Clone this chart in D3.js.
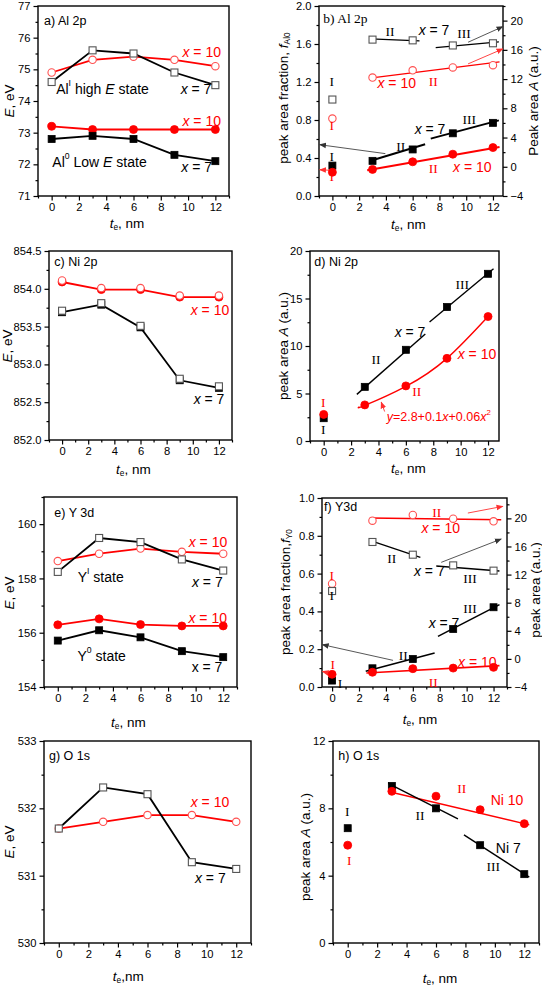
<!DOCTYPE html>
<html><head><meta charset="utf-8">
<script src="https://cdn.jsdelivr.net/npm/d3@7"></script>
<style>
body{margin:0;background:#fff}
svg text{font-family:"Liberation Sans",Arial,sans-serif}
svg text.serif{font-family:"Liberation Serif","Times New Roman",serif}
</style></head><body>
<svg id="c" width="542" height="987"></svg>
<script>
// ---------- data ----------
const T = [0, 3, 6, 9, 12];
// a) Al 2p
const aHigh7  = [74.6, 75.6, 75.5, 74.9, 74.5];
const aHigh10 = [74.9, 75.3, 75.4, 75.3, 75.1];
const aLow10  = [73.2, 73.1, 73.1, 73.1, 73.1];
const aLow7   = [72.8, 72.9, 72.8, 72.3, 72.1];
// b) Al 2p
const bFrac7  = [0.32, 0.37, 0.49, 0.66, 0.77];
const bFrac10 = [0.25, 0.28, 0.36, 0.44, 0.51];
const bArea7  = [9.2, 17.4, 17.3, 16.6, 16.9];
const bArea10 = [6.6, 12.2, 13.2, 13.6, 13.9];
const bFitArea7II  = [[2.85, 17.49], [6.51, 17.22]];
const bFitArea7III = [[7.72, 16.31], [12.44, 17.08]];
const bFitArea10   = [[2.80, 12.12], [12.49, 14.35]];
const bFitFrac7II  = [[2.80, 0.368], [6.93, 0.544]];
const bFitFrac7III = [[7.35, 0.604], [12.44, 0.796]];
const bFitFrac10   = [[2.60, 0.270], [12.49, 0.516]];
// c) Ni 2p
const cRedOpen    = [854.11, 854.01, 854.01, 853.91, 853.91];
const cRedFilled  = [854.09, 853.99, 853.99, 853.89, 853.89];
const cBlackOpen  = [853.71, 853.81, 853.51, 852.81, 852.71];
const cBlackFilled= [853.69, 853.79, 853.49, 852.79, 852.69];
// d) Ni 2p
const d7  = [2.4, 5.7, 9.6, 14.1, 17.6];
const d10 = [2.8, 3.8, 5.8, 8.7, 13.1];
const dFit7II  = [[2.42, 4.91], [7.42, 11.26]];
const dFit7III = [[7.73, 12.53], [12.4, 18.14]];
const dFit10   = [[2.6, 3.6], [3, 3.75], [6, 5.75], [9, 8.7], [12, 13.1]];
// e) Y 3d
const eHigh7  = [158.24, 159.49, 159.34, 158.70, 158.29];
const eHigh10 = [158.64, 158.91, 159.10, 158.98, 158.91];
const eLow10  = [156.29, 156.51, 156.30, 156.25, 156.25];
const eLow7   = [155.71, 156.09, 155.83, 155.32, 155.10];
// f) Y3d
const fFrac7  = [0.034, 0.099, 0.148, 0.307, 0.422];
const fFrac10 = [0.067, 0.078, 0.097, 0.100, 0.104];
const fArea7  = [9.66, 16.64, 14.83, 13.31, 12.56];
const fArea10 = [10.7, 19.67, 20.48, 19.96, 19.58];
const fFitArea10   = [[2.80, 20.05], [12.57, 19.81]];
const fFitArea7II  = [[2.80, 16.87], [6.56, 14.45]];
const fFitArea7III = [[7.74, 13.23], [12.44, 12.51]];
const fFitFrac7II  = [[2.50, 0.083], [7.62, 0.180]];
const fFitFrac7III = [[7.87, 0.268], [12.44, 0.436]];
const fFitFrac10   = [[2.55, 0.074], [12.44, 0.113]];
// g) O 1s
const g7  = [531.70, 532.31, 532.21, 531.20, 531.10];
const g10 = [531.70, 531.80, 531.90, 531.90, 531.80];
// h) O 1s
const h7  = [6.82, 9.33, 8.00, 5.81, 4.09];
const h10 = [5.81, 9.01, 8.72, 7.92, 7.09];
const hFit10    = [[2.75, 9.00], [12.34, 7.02]];
const hFit7II   = [[2.75, 9.49], [7.49, 7.37]];
const hFit7III  = [[7.90, 6.42], [12.34, 3.91]];
// tick labels
const xTicks = [0, 2, 4, 6, 8, 10, 12];
const xMinor = [-1, 1, 3, 5, 7, 9, 11, 13];

// ---------- drawing ----------
const svg = d3.select("#c");
const RED = "#ff0000", OPENRED = "#ff5050", GRAY = "#555";
const FS = 14, FT = 13.5, FR = 13.5, FP = 12.5, FK = 11.2;
const defs = svg.append("defs");
[["ahBlack", "#333"], ["ahRed", "#ff3030"]].forEach(([id, col]) => {
  defs.append("marker").attr("id", id).attr("viewBox", "0 0 10 10")
    .attr("refX", 9).attr("refY", 5).attr("markerWidth", 7).attr("markerHeight", 7)
    .attr("markerUnits", "userSpaceOnUse").attr("orient", "auto")
    .append("path").attr("d", "M0,1L10,5L0,9Z").attr("fill", col);
});

function rich(parent, str, x, y, o) {
  const fs = o.fs || FS;
  const t = parent.append("text").attr("x", x).attr("y", y)
    .attr("font-size", fs).attr("fill", o.color || "#000")
    .attr("text-anchor", o.anchor || "middle").attr("dominant-baseline", "central");
  if (o.serif) t.attr("class", "serif");
  if (o.rotate) t.attr("transform", `rotate(-90,${x},${y})`);
  const parts = str.split(/(<\/?(?:i|sup|sub)>)/);
  let it = false, mode = null, shift = 0;
  parts.forEach(p => {
    if (p === "<i>") { it = true; return; }
    if (p === "</i>") { it = false; return; }
    if (p === "<sup>") { mode = "sup"; return; }
    if (p === "<sub>") { mode = "sub"; return; }
    if (p === "</sup>" || p === "</sub>") { mode = null; return; }
    if (!p) return;
    const target = mode === "sup" ? -fs * 0.42 : mode === "sub" ? fs * 0.32 : 0;
    const ts = t.append("tspan").text(p);
    if (target - shift !== 0) ts.attr("dy", target - shift);
    shift = target;
    if (it) ts.attr("font-style", "italic");
    if (mode) ts.attr("font-size", fs * 0.62);
  });
  return t;
}

function range(a, b, s) { const r = []; for (let v = a; v <= b + 1e-9; v += s) r.push(+v.toFixed(4)); return r; }

function panel(cfg) {
  const g = svg.append("g");
  const [L, Tp, R, B] = cfg.box;
  const x = d3.scaleLinear().domain(cfg.xd).range([L, R]);
  const y = d3.scaleLinear().domain(cfg.yd).range([B, Tp]);
  const y2 = cfg.y2d ? d3.scaleLinear().domain(cfg.y2d).range([B, Tp]) : null;
  const xm = xMinor.filter(v => v >= cfg.xd[0] - 1e-6 && v <= cfg.xd[1] + 1e-6);

  const styleAxis = sel => {
    sel.select(".domain").remove();
    sel.selectAll("line").attr("stroke", "#000").attr("stroke-width", 1.2);
    sel.selectAll("text").attr("font-size", FK).attr("fill", "#000")
      .attr("font-family", '"Liberation Sans",Arial,sans-serif');
  };
  g.append("g").attr("transform", `translate(0,${B})`)
    .call(d3.axisBottom(x).tickValues(xm).tickSize(2.5).tickFormat("")).call(styleAxis);
  g.append("g").attr("transform", `translate(0,${B})`)
    .call(d3.axisBottom(x).tickValues(xTicks).tickSize(4.5).tickPadding(3)).call(styleAxis);
  g.append("g").attr("transform", `translate(${L},0)`)
    .call(d3.axisLeft(y).tickValues(cfg.yMinor).tickSize(2.5).tickFormat("")).call(styleAxis);
  g.append("g").attr("transform", `translate(${L},0)`)
    .call(d3.axisLeft(y).tickValues(cfg.yTicks).tickSize(4.5).tickPadding(3).tickFormat(d3.format(cfg.yFmt))).call(styleAxis);
  if (y2) {
    g.append("g").attr("transform", `translate(${R},0)`)
      .call(d3.axisRight(y2).tickValues(cfg.y2Minor).tickSize(2.5).tickFormat("")).call(styleAxis);
    g.append("g").attr("transform", `translate(${R},0)`)
      .call(d3.axisRight(y2).tickValues(cfg.y2Ticks).tickSize(4.5).tickPadding(3).tickFormat(d3.format("d"))).call(styleAxis);
  }
  g.append("rect").attr("x", L).attr("y", Tp).attr("width", R - L).attr("height", B - Tp)
    .attr("fill", "none").attr("stroke", "#000").attr("stroke-width", 1.4);

  const ys = a => a === "r" ? y2 : y;
  (cfg.fits || []).forEach(f => {
    const sc = ys(f.axis);
    g.append("path").datum(f.pts)
      .attr("d", d3.line().x(d => x(d[0])).y(d => sc(d[1])).curve(f.curve || d3.curveLinear))
      .attr("fill", "none").attr("stroke", f.color).attr("stroke-width", f.w || 1.4);
  });
  (cfg.series || []).forEach(s => {
    if (!s.line) return;
    const sc = ys(s.axis);
    g.append("path").datum(s.v)
      .attr("d", d3.line().x((d, i) => x(T[i])).y(d => sc(d)))
      .attr("fill", "none").attr("stroke", s.color).attr("stroke-width", 1.8);
  });
  (cfg.arrows || []).forEach(a => {
    const sc = ys(a.axis);
    g.append("line").attr("x1", x(a.from[0])).attr("y1", sc(a.from[1]))
      .attr("x2", x(a.to[0])).attr("y2", sc(a.to[1]))
      .attr("stroke", a.red ? "#ff3030" : "#444").attr("stroke-width", 0.9)
      .attr("marker-end", a.red ? "url(#ahRed)" : "url(#ahBlack)");
  });
  (cfg.series || []).forEach(s => {
    const sc = ys(s.axis);
    const pts = s.v.map((v, i) => [T[i], v]);
    const mcol = s.mcol || s.color;
    if (s.mk === "sq") {
      g.selectAll(null).data(pts).join("rect")
        .attr("x", d => x(d[0]) - 3.5).attr("y", d => sc(d[1]) - 3.5)
        .attr("width", 7).attr("height", 7)
        .attr("fill", s.open ? "#fff" : mcol).attr("stroke", mcol).attr("stroke-width", s.open ? 1.1 : 0.8);
    } else {
      g.selectAll(null).data(pts).join("circle")
        .attr("cx", d => x(d[0])).attr("cy", d => sc(d[1])).attr("r", s.open ? 3.7 : 4)
        .attr("fill", s.open ? "#fff" : mcol).attr("stroke", mcol).attr("stroke-width", s.open ? 1.1 : 0.8);
    }
  });
  (cfg.labels || []).forEach(l => rich(g, l.s, l.x, l.y, l));
}

const ET = "<i>E</i>, eV", TT = "<i>t</i><sub>e</sub>, nm";

// a
panel({
  box: [38, 6, 229, 196], xd: [-1, 13], yd: [71, 77],
  yTicks: range(71, 77, 1), yMinor: range(71.5, 76.5, 1), yFmt: "d",
  series: [
    { v: aHigh10, mk: "ci", open: true, color: RED, mcol: OPENRED, line: true },
    { v: aHigh7, mk: "sq", open: true, color: "#000", mcol: GRAY, line: true },
    { v: aLow10, mk: "ci", open: false, color: RED, line: true },
    { v: aLow7, mk: "sq", open: false, color: "#000", line: true }
  ],
  labels: [
    { s: "a) Al 2p", x: 44, y: 21, anchor: "start", fs: FP },
    { s: "<i>x</i> = 10", x: 201.7, y: 51.7, color: RED },
    { s: "Al<sup>I</sup> high <i>E</i> state", x: 102.5, y: 89.3 },
    { s: "<i>x</i> = 7", x: 196, y: 89.3 },
    { s: "<i>x</i> = 10", x: 201.7, y: 121, color: RED },
    { s: "Al<sup>0</sup> Low <i>E</i> state", x: 99.5, y: 162.3 },
    { s: "<i>x</i> = 7", x: 196.7, y: 166.7 },
    { s: ET, x: 9, y: 101, rotate: true, fs: FT },
    { s: TT, x: 127, y: 223, fs: FT }
  ]
});

// b
panel({
  box: [319, 6, 503, 196], xd: [-1, 12.75], yd: [0, 2],
  yTicks: range(0, 2, 0.4), yMinor: range(0.2, 1.8, 0.4), yFmt: ".1f",
  y2d: [-4, 22], y2Ticks: range(-4, 20, 4), y2Minor: range(-2, 22, 4),
  fits: [
    { pts: bFitArea7II, axis: "r", color: "#000", w: 1.2 },
    { pts: bFitArea7III, axis: "r", color: "#000", w: 1.2 },
    { pts: bFitArea10, axis: "r", color: RED, w: 1.2 },
    { pts: bFitFrac7II, axis: "l", color: "#000", w: 2 },
    { pts: bFitFrac7III, axis: "l", color: "#000", w: 2 },
    { pts: bFitFrac10, axis: "l", color: RED, w: 2 }
  ],
  arrows: [
    { from: [3.96, 0.446], to: [-0.95, 0.54], axis: "l" },
    { from: [-0.12, 0.27], to: [-0.95, 0.277], axis: "l", red: true },
    { from: [10.14, 17.04], to: [12.74, 19.18], axis: "r" },
    { from: [10.14, 14.08], to: [12.74, 16.13], axis: "r", red: true }
  ],
  series: [
    { v: bArea7, axis: "r", mk: "sq", open: true, color: "#000", mcol: GRAY },
    { v: bArea10, axis: "r", mk: "ci", open: true, color: RED, mcol: OPENRED },
    { v: bFrac7, axis: "l", mk: "sq", open: false, color: "#000" },
    { v: bFrac10, axis: "l", mk: "ci", open: false, color: RED }
  ],
  labels: [
    { s: "b) Al 2p", x: 323.3, y: 18.3, anchor: "start", fs: FR, serif: true },
    { s: "II", x: 390, y: 30.7, serif: true, fs: FR },
    { s: "<i>x</i> = 7", x: 434, y: 30 },
    { s: "III", x: 464, y: 33.3, serif: true, fs: FR },
    { s: "I", x: 331.7, y: 81, serif: true, fs: FR },
    { s: "<i>x</i> = 10", x: 396.7, y: 82.7, color: RED },
    { s: "II", x: 433.3, y: 80.7, color: RED, serif: true, fs: FR },
    { s: "I", x: 331.7, y: 125, color: RED, serif: true, fs: FR },
    { s: "III", x: 469.3, y: 119, serif: true, fs: FR },
    { s: "<i>x</i> = 7", x: 430, y: 129.3 },
    { s: "II", x: 400.7, y: 145.7, serif: true, fs: FR },
    { s: "I", x: 331.7, y: 156, serif: true, fs: FR },
    { s: "I", x: 331.7, y: 175.7, color: RED, serif: true, fs: FR },
    { s: "II", x: 433.3, y: 168.3, color: RED, serif: true, fs: FR },
    { s: "<i>x</i> = 10", x: 472.3, y: 167.3, color: RED },
    { s: "peak area fraction, <i>f</i><sub>Al0</sub>", x: 283, y: 98, rotate: true, fs: FT },
    { s: "Peak area <i>A</i> (a.u.)", x: 533, y: 101, rotate: true, fs: FT },
    { s: TT, x: 408.3, y: 224, fs: FT }
  ]
});

// c
panel({
  box: [49, 251, 232, 440], xd: [-1, 13], yd: [852, 854.5],
  yTicks: range(852, 854.5, 0.5), yMinor: range(852.25, 854.25, 0.5), yFmt: ".1f",
  series: [
    { v: cRedFilled, mk: "ci", open: false, color: RED, line: true },
    { v: cRedOpen, mk: "ci", open: true, color: RED, mcol: OPENRED, line: false },
    { v: cBlackFilled, mk: "sq", open: false, color: "#000", line: true },
    { v: cBlackOpen, mk: "sq", open: true, color: "#000", mcol: GRAY, line: false }
  ],
  labels: [
    { s: "c) Ni 2p", x: 54.3, y: 262.3, anchor: "start", fs: FP },
    { s: "<i>x</i> = 10", x: 210, y: 310, color: RED },
    { s: "<i>x</i> = 7", x: 209, y: 399 },
    { s: ET, x: 7, y: 346, rotate: true, fs: FT },
    { s: TT, x: 133.3, y: 469, fs: FT }
  ]
});

// d
panel({
  box: [310, 251, 499, 441], xd: [-1, 12.8], yd: [0, 20],
  yTicks: range(0, 20, 5), yMinor: range(2.5, 17.5, 5), yFmt: "d",
  fits: [
    { pts: dFit7II, axis: "l", color: "#000", w: 1.4 },
    { pts: dFit7III, axis: "l", color: "#000", w: 1.4 },
    { pts: dFit10, axis: "l", color: RED, w: 1.4, curve: d3.curveNatural }
  ],
  arrows: [
    { from: [4.45, 3.1], to: [4.2, 4.1], axis: "l", red: true }
  ],
  series: [
    { v: d7, mk: "sq", open: false, color: "#000" },
    { v: d10, mk: "ci", open: false, color: RED }
  ],
  labels: [
    { s: "d) Ni 2p", x: 314.3, y: 261.7, anchor: "start", fs: FP },
    { s: "III", x: 462.3, y: 284, serif: true, fs: FR },
    { s: "<i>x</i> = 7", x: 410, y: 332.3 },
    { s: "II", x: 376, y: 359.3, serif: true, fs: FR },
    { s: "<i>x</i> = 10", x: 477, y: 354, color: RED },
    { s: "II", x: 416.7, y: 391, color: RED, serif: true, fs: FR },
    { s: "I", x: 323.3, y: 401.7, color: RED, serif: true, fs: FR },
    { s: "I", x: 323.3, y: 429.3, serif: true, fs: FR },
    { s: "<i>y</i>=2.8+0.1<i>x</i>+0.06<i>x</i><sup>2</sup>", x: 386.7, y: 417, anchor: "start", color: RED, fs: 12.5 },
    { s: "peak area <i>A</i> (a.u.)", x: 283.3, y: 346, rotate: true, fs: FT },
    { s: TT, x: 408.3, y: 468, fs: FT }
  ]
});

// e
panel({
  box: [44, 497, 237, 687], xd: [-1, 13], yd: [154, 161],
  yTicks: range(154, 160, 2), yMinor: range(155, 161, 2), yFmt: "d",
  series: [
    { v: eHigh10, mk: "ci", open: true, color: RED, mcol: OPENRED, line: true },
    { v: eHigh7, mk: "sq", open: true, color: "#000", mcol: GRAY, line: true },
    { v: eLow10, mk: "ci", open: false, color: RED, line: true },
    { v: eLow7, mk: "sq", open: false, color: "#000", line: true }
  ],
  labels: [
    { s: "e) Y 3d", x: 54.3, y: 512.7, anchor: "start", fs: FP },
    { s: "<i>x</i> = 10", x: 208, y: 542.3, color: RED },
    { s: "Y<sup>I</sup> state", x: 100.7, y: 576.7 },
    { s: "<i>x</i> = 7", x: 207.3, y: 581.7 },
    { s: "<i>x</i> = 10", x: 207.7, y: 617.7, color: RED },
    { s: "Y<sup>0</sup> state", x: 101.7, y: 656 },
    { s: "x = 7", x: 207, y: 666.7 },
    { s: ET, x: 9, y: 593, rotate: true, fs: FT },
    { s: TT, x: 128.3, y: 721.5, fs: FT }
  ]
});

// f
panel({
  box: [322, 498, 507, 687], xd: [-0.75, 13], yd: [0, 1],
  yTicks: range(0, 1, 0.2), yMinor: range(0.1, 0.9, 0.2), yFmt: ".1f",
  y2d: [-4, 22.9], y2Ticks: range(-4, 20, 4), y2Minor: range(-2, 22, 4),
  fits: [
    { pts: fFitArea10, axis: "r", color: RED, w: 1.4 },
    { pts: fFitArea7II, axis: "r", color: "#000", w: 1.4 },
    { pts: fFitArea7III, axis: "r", color: "#000", w: 1.4 },
    { pts: fFitFrac7II, axis: "l", color: "#000", w: 1.6 },
    { pts: fFitFrac7III, axis: "l", color: "#000", w: 1.6 },
    { pts: fFitFrac10, axis: "l", color: RED, w: 1.6 }
  ],
  arrows: [
    { from: [10.09, 20.76], to: [12.69, 21.71], axis: "r", red: true },
    { from: [8.11, 13.74], to: [12.57, 17.06], axis: "r" },
    { from: [4.53, 0.141], to: [-0.72, 0.224], axis: "l" },
    { from: [-0.05, 0.07], to: [-0.72, 0.082], axis: "l", red: true }
  ],
  series: [
    { v: fArea10, axis: "r", mk: "ci", open: true, color: RED, mcol: OPENRED },
    { v: fArea7, axis: "r", mk: "sq", open: true, color: "#000", mcol: GRAY },
    { v: fFrac7, axis: "l", mk: "sq", open: false, color: "#000" },
    { v: fFrac10, axis: "l", mk: "ci", open: false, color: RED }
  ],
  labels: [
    { s: "f) Y3d", x: 324, y: 507.3, anchor: "start", fs: FP },
    { s: "II", x: 436.7, y: 511.7, color: RED, serif: true, fs: FR },
    { s: "<i>x</i> = 10", x: 440.7, y: 528.3, color: RED },
    { s: "II", x: 391.7, y: 558.3, serif: true, fs: FR },
    { s: "<i>x</i> = 7", x: 429.3, y: 571 },
    { s: "III", x: 470, y: 578.3, serif: true, fs: FR },
    { s: "I", x: 331.7, y: 575, color: RED, serif: true, fs: FR },
    { s: "I", x: 331.7, y: 595, serif: true, fs: FR },
    { s: "III", x: 470, y: 607.7, serif: true, fs: FR },
    { s: "<i>x</i> = 7", x: 444, y: 622.7 },
    { s: "II", x: 403.3, y: 655, serif: true, fs: FR },
    { s: "<i>x</i> = 10", x: 477.3, y: 662.3, color: RED },
    { s: "I", x: 332.7, y: 664, color: RED, serif: true, fs: FR },
    { s: "II", x: 433.3, y: 681.7, color: RED, serif: true, fs: FR },
    { s: "I", x: 340, y: 682.7, serif: true, fs: FR },
    { s: "peak area fraction,<i>f</i><sub>Y0</sub>", x: 285, y: 592, rotate: true, fs: FT },
    { s: "peak area (a.u.)", x: 535, y: 590, rotate: true, fs: FT },
    { s: TT, x: 420, y: 718.5, fs: FT }
  ]
});

// g
panel({
  box: [44, 741, 251, 943], xd: [-1, 13], yd: [530, 533],
  yTicks: range(530, 533, 1), yMinor: range(530.5, 532.5, 1), yFmt: "d",
  series: [
    { v: g10, mk: "ci", open: true, color: RED, mcol: OPENRED, line: true },
    { v: g7, mk: "sq", open: true, color: "#000", mcol: GRAY, line: true }
  ],
  labels: [
    { s: "g) O 1s", x: 49, y: 756, anchor: "start", fs: FP },
    { s: "<i>x</i> = 10", x: 210, y: 802.3, color: RED },
    { s: "<i>x</i> = 7", x: 210.3, y: 877.7 },
    { s: ET, x: 9, y: 842, rotate: true, fs: FT },
    { s: "<i>t</i><sub>e</sub>,nm", x: 128.3, y: 975.5, fs: FT }
  ]
});

// h
panel({
  box: [333, 741, 539, 943], xd: [-1, 13], yd: [0, 12],
  yTicks: range(0, 12, 4), yMinor: range(2, 10, 4), yFmt: "d",
  fits: [
    { pts: hFit10, axis: "l", color: RED, w: 1.4 },
    { pts: hFit7II, axis: "l", color: "#000", w: 1.4 },
    { pts: hFit7III, axis: "l", color: "#000", w: 1.4 }
  ],
  series: [
    { v: h7, mk: "sq", open: false, color: "#000" },
    { v: h10, mk: "ci", open: false, color: RED }
  ],
  labels: [
    { s: "h) O 1s", x: 338.3, y: 756, anchor: "start", fs: FP },
    { s: "II", x: 461.7, y: 787.7, color: RED, serif: true, fs: FR },
    { s: "Ni 10", x: 507, y: 800, color: RED },
    { s: "I", x: 347.3, y: 811, serif: true, fs: FR },
    { s: "II", x: 420, y: 815, serif: true, fs: FR },
    { s: "I", x: 349.3, y: 860, color: RED, serif: true, fs: FR },
    { s: "Ni 7", x: 508.3, y: 848.3 },
    { s: "III", x: 493.3, y: 866, serif: true, fs: FR },
    { s: "peak area <i>A</i> (a.u.)", x: 305, y: 847, rotate: true, fs: FT },
    { s: TT, x: 440, y: 977.5, fs: FT }
  ]
});
</script>
</body></html>
